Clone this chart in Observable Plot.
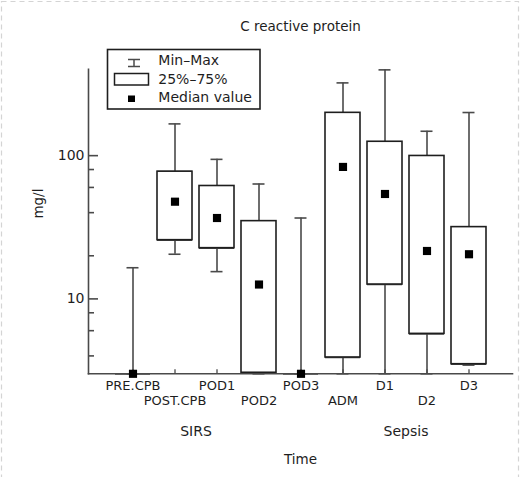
<!DOCTYPE html>
<html>
<head>
<meta charset="utf-8">
<script src="https://cdn.jsdelivr.net/npm/d3@7"></script>
<script src="https://cdn.jsdelivr.net/npm/@observablehq/plot@0.6"></script>
<style>
  html, body { margin: 0; padding: 0; background: #fff; }
  #chart { position: relative; width: 520px; height: 477px; }
</style>
</head>
<body>
<div id="chart"></div>
<script>
// Categories and box-plot statistics (mg/l)
const categories = ["PRE.CPB", "POST.CPB", "POD1", "POD2", "POD3", "ADM", "D1", "D2", "D3"];
const minVals    = [3,    20.5, 15.5, 3,    3,    3,    3,    3,    3.45];
const q1Vals     = [3,    25.7, 22.6, 3.05, 3,    3.9,  12.6, 5.7,  3.5];
const medianVals = [3,    47.7, 36.7, 12.6, 3,    83.4, 54,   21.6, 20.5];
const q3Vals     = [3,    77.3, 61.4, 34.9, 3,    199,  125,  99.5, 31.7];
const maxVals    = [16.5, 166.6, 94.2, 63.4, 36.7, 322, 397,  148,  200];

const groupLabels  = ["SIRS", "Sepsis"];
const groupAnchors = ["POD1", "D2"];

const yMajorTicks = [10, 100];
const yMinorTicks = [4, 6, 8, 20, 40, 60, 80];
const yDomain = [3, 400];

const legendItems = ["Min\u2013Max", "25%\u201375%", "Median value"];

const rows = categories.map((c, i) => ({
  cat: c, min: minVals[i], q1: q1Vals[i], median: medianVals[i], q3: q3Vals[i], max: maxVals[i]
}));

const W = 520, H = 477;
const mL = 88, mR = 8, mT = 68.9, mB = 103.7;
const frameH = H - mT - mB;
const frameW = W - mL - mR;
const font = "DejaVu Sans";
const ink = "#1e1e1e";
const grey = "#4a4a4a";

const evenCats = categories.filter((d, i) => i % 2 === 0);
const oddCats = categories.filter((d, i) => i % 2 === 1);

const plot = Plot.plot({
  width: W,
  height: H,
  marginLeft: mL, marginRight: mR, marginTop: mT, marginBottom: mB,
  style: { fontFamily: font, color: ink, background: "transparent" },
  x: { type: "band", domain: categories, paddingInner: 0.175, paddingOuter: 0.5875, axis: null },
  y: { type: "log", domain: yDomain, axis: null },
  marks: [
    // axes lines
    Plot.frame({ anchor: "left", stroke: grey, strokeWidth: 1.6 }),
    Plot.frame({ anchor: "bottom", stroke: grey, strokeWidth: 1.6 }),
    // y ticks pointing inward
    Plot.tickY(yMajorTicks, { y: d => d, insetRight: frameW - 10, stroke: grey, strokeWidth: 1.6 }),
    Plot.tickY(yMinorTicks, { y: d => d, insetRight: frameW - 6, stroke: grey, strokeWidth: 1.6 }),
    // y labels
    Plot.axisY({ ticks: yMajorTicks, tickSize: 0, tickPadding: 4, fontSize: 14, tickFormat: d => String(d), label: null }),
    // x ticks pointing up
    Plot.tickX(categories, { x: d => d, insetTop: frameH - 4, stroke: grey, strokeWidth: 1.3 }),
    // x labels, staggered
    Plot.axisX({ ticks: evenCats, tickSize: 0, tickPadding: 7.2, fontSize: 13, label: null }),
    Plot.axisX({ ticks: oddCats, tickSize: 0, tickPadding: 22.2, fontSize: 13, label: null }),
    // whiskers
    Plot.ruleX(rows, { x: "cat", y1: "min", y2: "max", stroke: grey, strokeWidth: 1.6 }),
    Plot.tickY(rows, { x: "cat", y: "min", insetLeft: 11.5, insetRight: 11.5, stroke: grey, strokeWidth: 1.6 }),
    Plot.tickY(rows, { x: "cat", y: "max", insetLeft: 11.5, insetRight: 11.5, stroke: grey, strokeWidth: 1.6 }),
    // box edges (visible also when the box is degenerate)
    Plot.tickY(rows, { x: "cat", y: "q1", stroke: grey, strokeWidth: 1.6 }),
    Plot.tickY(rows, { x: "cat", y: "q3", stroke: grey, strokeWidth: 1.6 }),
    // boxes
    Plot.barY(rows, { x: "cat", y1: "q1", y2: "q3", fill: "white", stroke: ink, strokeWidth: 1.6 }),
    // medians
    Plot.dot(rows, { x: "cat", y: "median", symbol: "square", r: 4.6, fill: "black", stroke: "none" }),
    // group labels
    Plot.text(groupLabels, { x: groupAnchors, text: d => d, frameAnchor: "bottom", dy: 61.7, dx: -21, fontSize: 14, fill: ink }),
    // x axis title
    Plot.text(["Time"], { text: d => d, frameAnchor: "bottom", dy: 89.7, fontSize: 13.5, fill: ink }),
    // y axis title
    Plot.text(["mg/l"], { text: d => d, frameAnchor: "left", dx: -50, dy: -3, rotate: -90, fontSize: 13.5, fill: ink }),
    // chart title
    Plot.text(["C reactive protein"], { text: d => d, frameAnchor: "top", dy: -47.5, fontSize: 13.5, fill: ink })
  ]
});

document.getElementById("chart").appendChild(plot);

// Decorations: dashed outer border and legend
const svg = d3.select(plot);
svg.insert("rect", ":first-child")
  .attr("x", 1.5).attr("y", 1.5).attr("width", W - 3).attr("height", H + 10)
  .attr("fill", "none").attr("stroke", "#d4d4d4").attr("stroke-width", 1.2)
  .attr("stroke-dasharray", "5,4");

const lg = svg.append("g").attr("font-family", font).attr("font-size", 14)
  .attr("fill", ink).attr("text-anchor", "start");
lg.append("rect").attr("x", 107.5).attr("y", 49.5).attr("width", 152.5).attr("height", 59.5)
  .attr("fill", "white").attr("stroke", ink).attr("stroke-width", 1.6);
// Min-Max symbol
lg.append("line").attr("x1", 128).attr("x2", 140).attr("y1", 59.5).attr("y2", 59.5).attr("stroke", grey).attr("stroke-width", 1.5);
lg.append("line").attr("x1", 128).attr("x2", 140).attr("y1", 66.5).attr("y2", 66.5).attr("stroke", grey).attr("stroke-width", 1.5);
lg.append("line").attr("x1", 134).attr("x2", 134).attr("y1", 59.5).attr("y2", 66.5).attr("stroke", grey).attr("stroke-width", 1.5);
// box symbol
lg.append("rect").attr("x", 114.5).attr("y", 73.5).attr("width", 34).attr("height", 11.5)
  .attr("fill", "white").attr("stroke", ink).attr("stroke-width", 1.5);
// median symbol
lg.append("rect").attr("x", 128).attr("y", 95.5).attr("width", 7).attr("height", 6.5).attr("fill", "black");
legendItems.forEach((t, i) => {
  lg.append("text").attr("x", 158.3).attr("y", [60.5, 79, 97.5][i]).attr("dy", "0.35em").text(t);
});
</script>
</body>
</html>
